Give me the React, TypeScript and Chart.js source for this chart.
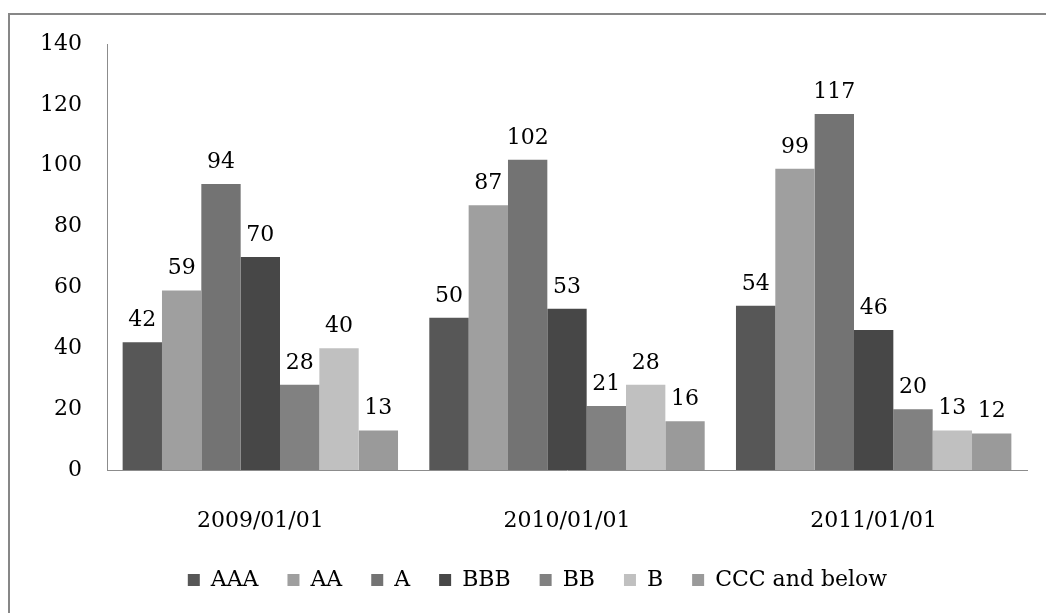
import React, { useEffect, useRef } from "react";
import { Chart, registerables } from "chart.js";

Chart.register(...registerables);

const categories = ["2009/01/01", "2010/01/01", "2011/01/01"];
const seriesNames = ["AAA", "AA", "A", "BBB", "BB", "B", "CCC and below"];
const aaa = [42, 50, 54];
const aa = [59, 87, 99];
const a = [94, 102, 117];
const bbb = [70, 53, 46];
const bb = [28, 21, 20];
const b = [40, 28, 13];
const ccc = [13, 16, 12];
const seriesValues = [aaa, aa, a, bbb, bb, b, ccc];
const seriesColors = ["#575757", "#9f9f9f", "#737373", "#474747", "#818181", "#c0c0c0", "#9a9a9a"];
const yTicks = [0, 20, 40, 60, 80, 100, 120, 140];

const FONT = "'DejaVu Serif', serif";
const FONT_SIZE = 22;
const LEGEND_SHIFT = 24;

// Outer frame around the whole chart
const framePlugin = {
  id: "frame",
  beforeDraw(chart: any) {
    const { ctx, width, height } = chart;
    ctx.save();
    ctx.fillStyle = "#ffffff";
    ctx.fillRect(0, 0, width, height);
    ctx.strokeStyle = "#878787";
    ctx.lineWidth = 2;
    ctx.strokeRect(9, 14, width + 10, height + 10);
    ctx.restore();
  },
};

// Nudge the legend row to the right so it sits under the plot
const legendShiftPlugin = {
  id: "legendShift",
  afterLayout(chart: any) {
    if (chart.legend) {
      chart.legend.left += LEGEND_SHIFT;
      chart.legend.right += LEGEND_SHIFT;
    }
  },
};

// Value labels above each bar
const valueLabelPlugin = {
  id: "valueLabels",
  afterDatasetsDraw(chart: any) {
    const { ctx } = chart;
    ctx.save();
    ctx.font = `${FONT_SIZE}px ${FONT}`;
    ctx.fillStyle = "#000000";
    ctx.textAlign = "center";
    ctx.textBaseline = "alphabetic";
    chart.data.datasets.forEach((ds: any, i: number) => {
      const meta = chart.getDatasetMeta(i);
      meta.data.forEach((el: any, j: number) => {
        ctx.fillText(String(ds.data[j]), el.x, el.y - 16);
      });
    });
    ctx.restore();
  },
};

export default function App() {
  const ref = useRef<HTMLCanvasElement | null>(null);

  useEffect(() => {
    if (!ref.current) return;
    const chart = new Chart(ref.current, {
      type: "bar",
      data: {
        labels: categories,
        datasets: seriesNames.map((name, i) => ({
          label: name,
          data: seriesValues[i],
          backgroundColor: seriesColors[i],
          borderWidth: 0,
          categoryPercentage: 0.898,
          barPercentage: 1,
        })),
      },
      options: {
        animation: false,
        responsive: false,
        maintainAspectRatio: false,
        layout: { padding: { left: 0, right: 19, top: 44, bottom: 12 } },
        plugins: {
          tooltip: { enabled: false },
          legend: {
            position: "bottom",
            labels: {
              boxWidth: 12,
              boxHeight: 12,
              padding: 29,
              color: "#000000",
              font: { family: FONT, size: FONT_SIZE },
            },
          },
        },
        scales: {
          x: {
            grid: { display: false, drawTicks: false },
            border: { color: "#8c8c8c", width: 1 },
            ticks: { color: "#000000", padding: 38, font: { family: FONT, size: FONT_SIZE } },
            afterFit(scale: any) {
              scale.height = 70;
            },
          },
          y: {
            min: 0,
            max: 140,
            grid: { display: false, drawTicks: false },
            border: { color: "#8c8c8c", width: 1 },
            afterBuildTicks(scale: any) {
              scale.ticks = yTicks.map((v) => ({ value: v }));
            },
            ticks: { color: "#000000", padding: 25, font: { family: FONT, size: FONT_SIZE } },
            afterFit(scale: any) {
              scale.width = 107;
            },
          },
        },
      },
      plugins: [framePlugin, legendShiftPlugin, valueLabelPlugin],
    });
    return () => chart.destroy();
  }, []);

  return (
    <div style={{ position: "fixed", left: 0, top: 0, width: 1046, height: 613 }}>
      <canvas ref={ref} width={1046} height={613} style={{ width: 1046, height: 613, display: "block" }} />
    </div>
  );
}
